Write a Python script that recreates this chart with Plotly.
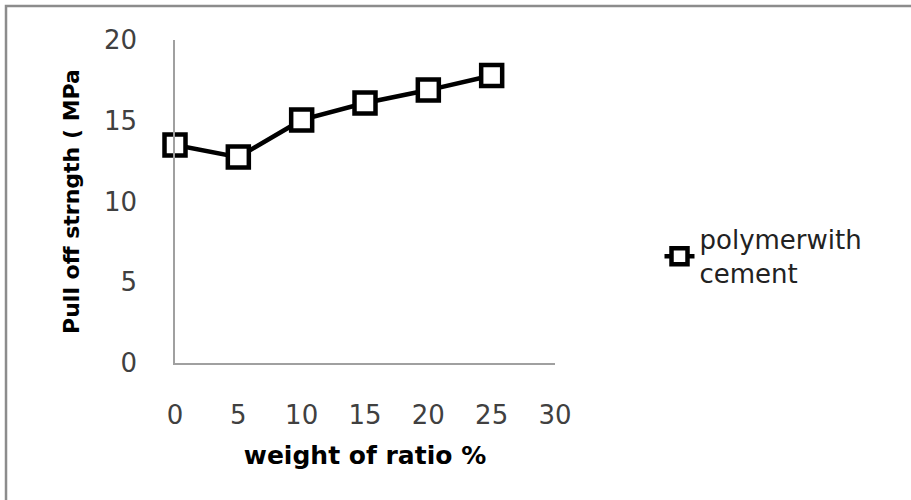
import plotly.graph_objects as go

x_vals = [0, 5, 10, 15, 20, 25]
y_vals = [13.5, 12.75, 15.05, 16.1, 16.9, 17.8]
series_name = "polymerwith<br>cement"
x_ticks = [0, 5, 10, 15, 20, 25, 30]
y_ticks = [0, 5, 10, 15, 20]

FONT = "DejaVu Sans"

fig = go.Figure()
fig.add_trace(go.Scatter(
    x=x_vals, y=y_vals, mode="lines+markers", name=series_name,
    line=dict(color="black", width=4.5),
    marker=dict(symbol="square", size=21, color="white",
                line=dict(color="black", width=4.5)),
    cliponaxis=False,
))

fig.update_layout(
    width=911, height=500,
    margin=dict(l=175, r=356, t=40, b=137),
    paper_bgcolor="white", plot_bgcolor="white",
    font=dict(family=FONT, size=26, color="#404040"),
    showlegend=True,
    legend=dict(x=1.275, y=0.33, xanchor="left", yanchor="middle",
                font=dict(family=FONT, size=26, color="#222222"),
                bgcolor="rgba(0,0,0,0)"),
    xaxis=dict(range=[0, 30], tickvals=x_ticks, showgrid=False, zeroline=False,
               showline=True, linecolor="#a0a0a0", linewidth=1.5,
               ticks="", ticklabelstandoff=28,
               title=dict(text="<b>weight of ratio %</b>", standoff=18,
                          font=dict(family=FONT, size=25, color="black"))),
    yaxis=dict(range=[0, 20], tickvals=y_ticks, showgrid=False, zeroline=False,
               showline=True, linecolor="#a0a0a0", linewidth=1.5,
               ticks="", ticklabelstandoff=31,
               title=dict(text="<b>Pull off strngth ( MPa</b>", standoff=18,
                          font=dict(family=FONT, size=22, color="black"))),
)

fig.add_shape(type="rect", xref="paper", yref="paper",
              x0=-0.4447, x1=2.5, y0=-1.0, y1=1.105,
              line=dict(color="#8c8c8c", width=2.5), layer="below")

fig.write_html("out.html", config={"displayModeBar": False},
               post_script="document.body.style.margin='0px';")
